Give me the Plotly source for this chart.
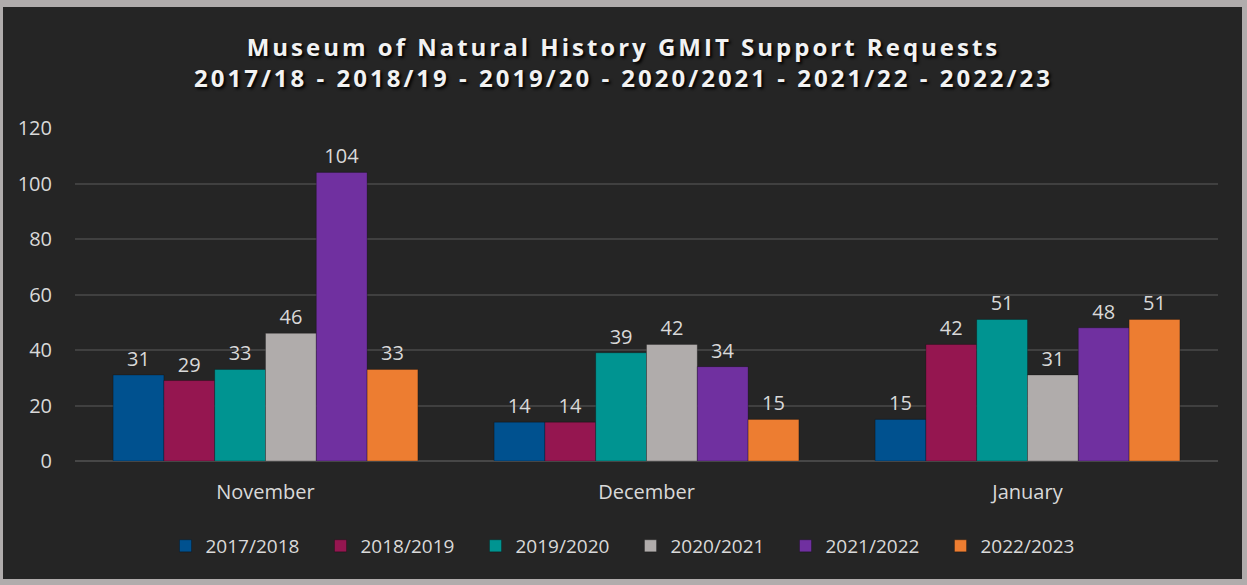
import plotly.graph_objects as go

months = ["November", "December", "January"]
series_names = ["2017/2018", "2018/2019", "2019/2020", "2020/2021", "2021/2022", "2022/2023"]
v_2017_18 = [31, 14, 15]
v_2018_19 = [29, 14, 42]
v_2019_20 = [33, 39, 51]
v_2020_21 = [46, 42, 31]
v_2021_22 = [104, 34, 48]
v_2022_23 = [33, 15, 51]
series_values = [v_2017_18, v_2018_19, v_2019_20, v_2020_21, v_2021_22, v_2022_23]
colors = ["#00518f", "#951650", "#009491", "#b0acab", "#7030a0", "#ed7d31"]
y_ticks = [0, 20, 40, 60, 80, 100, 120]

TXT = "#d9d9d9"
FONT = "Open Sans"

fig = go.Figure()
for name, vals, col in zip(series_names, series_values, colors):
    fig.add_trace(go.Bar(
        x=months, y=vals, name=name,
        marker=dict(color=col, line=dict(color="rgba(0,0,0,0.25)", width=1)),
        text=vals, textposition="outside", cliponaxis=False,
        textfont=dict(family=FONT, size=20, color=TXT),
    ))

W, H = 1247, 585
L, R, T, B = 75, 29, 128, 124
pw, ph = W - L - R, H - T - B

def px(x):
    return (x - L) / pw

def py(y):
    return (H - B - y) / ph

fig.add_shape(type="rect", xref="paper", yref="paper",
              x0=px(3), x1=px(1242), y0=py(579), y1=py(7),
              fillcolor="#252525", line=dict(width=0), layer="below")

fig.update_layout(
    width=W, height=H,
    margin=dict(l=L, r=R, t=T, b=B),
    paper_bgcolor="#b0acac",
    plot_bgcolor="rgba(0,0,0,0)",
    barmode="group", bargap=0.2, bargroupgap=0,
    title=dict(
        text="Museum of Natural History GMIT Support Requests<br>2017/18 - 2018/19 - 2019/20 - 2020/2021 - 2021/22 - 2022/23",
        x=0.5, xref="container", xanchor="center",
        y=1 - 56 / H, yref="container", yanchor="middle",
        font=dict(family=FONT, size=24, color="#f2f2f2", weight="bold",
                  shadow="2px 2px 3px #000000"),
    ),
    font=dict(family=FONT, size=20, color=TXT),
    xaxis=dict(showgrid=False, ticks="", ticklabelstandoff=17,
               tickfont=dict(family=FONT, size=20, color=TXT),
               showline=False, zeroline=False),
    yaxis=dict(range=[0, 120], tickvals=y_ticks, showgrid=True,
               gridcolor="#404040", gridwidth=2, zeroline=True,
               zerolinecolor="#474747", zerolinewidth=2,
               ticks="", ticklabelstandoff=22,
               tickfont=dict(family=FONT, size=20, color=TXT)),
    legend=dict(orientation="h", x=0.5 - (646 - 630) / pw, xanchor="center",
                y=py(546), yanchor="middle",
                font=dict(family=FONT, size=19, color=TXT),
                entrywidth=110, entrywidthmode="pixels",
                bgcolor="rgba(0,0,0,0)"),
    showlegend=True,
)

post = (
    "document.body.style.margin='0';"
    "document.querySelectorAll('.gtitle').forEach(function(e){e.style.letterSpacing='3px';});"
)
fig.write_html("out.html", post_script=post, config={"displayModeBar": False})
